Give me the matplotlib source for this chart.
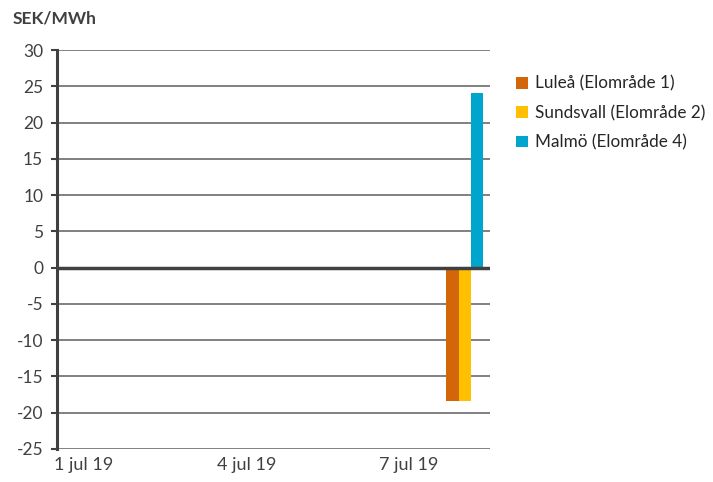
import matplotlib
matplotlib.use("Agg")
import matplotlib.pyplot as plt
import numpy as np

dates = ["1 jul 19", "2 jul 19", "3 jul 19", "4 jul 19", "5 jul 19", "6 jul 19", "7 jul 19", "8 jul 19"]
lulea = [0, 0, 0, 0, 0, 0, 0, -18.4]
sundsvall = [0, 0, 0, 0, 0, 0, 0, -18.4]
malmo = [0, 0, 0, 0, 0, 0, 0, 24.1]
series_names = ["Luleå (Elområde 1)", "Sundsvall (Elområde 2)", "Malmö (Elområde 4)"]
colors = ["#D4660A", "#FFC000", "#00A5CE"]
yticks = list(range(-25, 31, 5))

plt.rcParams['font.family'] = ['Lato', 'DejaVu Sans']
fig = plt.figure(figsize=(7.13, 4.82), dpi=100)
ax = fig.add_axes([0.080, 0.0685, 0.607, 0.8275])

x = np.arange(len(dates))
w = 0.228
for i, (vals, name, c) in enumerate(zip([lulea, sundsvall, malmo], series_names, colors)):
    ax.bar(x + 0.04 + (i - 1) * w, vals, width=w, color=c, label=name, zorder=3)

ax.set_xlim(-0.5, len(dates) - 0.5)
ax.set_ylim(-25, 30)
ax.set_yticks(yticks)
ax.set_yticklabels([str(v) for v in yticks], fontsize=12.5, color="#404040")
ax.set_xticks(x[::3])
ax.set_xticklabels(dates[::3], fontsize=13, color="#404040")
ax.tick_params(axis='x', length=0, pad=6)
ax.tick_params(axis='y', length=4, width=1.5, color="#404040", pad=6, direction='out')

for v in yticks:
    if v != 0:
        ax.axhline(v, color="#767676", lw=1.3, zorder=1)
ax.axhline(0, color="#404040", lw=2.5, zorder=4)

for s in ['top', 'right', 'bottom']:
    ax.spines[s].set_visible(False)
ax.spines['left'].set_color("#404040")
ax.spines['left'].set_linewidth(2.2)

fig.text(0.018, 0.962, "SEK/MWh", fontsize=12.5, fontweight='bold', color="#404040", va='center', ha='left')

ax.legend(loc='upper left', bbox_to_anchor=(1.025, 0.975), frameon=False, fontsize=12.3,
          handlelength=0.7, handleheight=0.7, handletextpad=0.4, labelspacing=0.78,
          labelcolor="#262626")

fig.savefig("out.png", dpi=100)
